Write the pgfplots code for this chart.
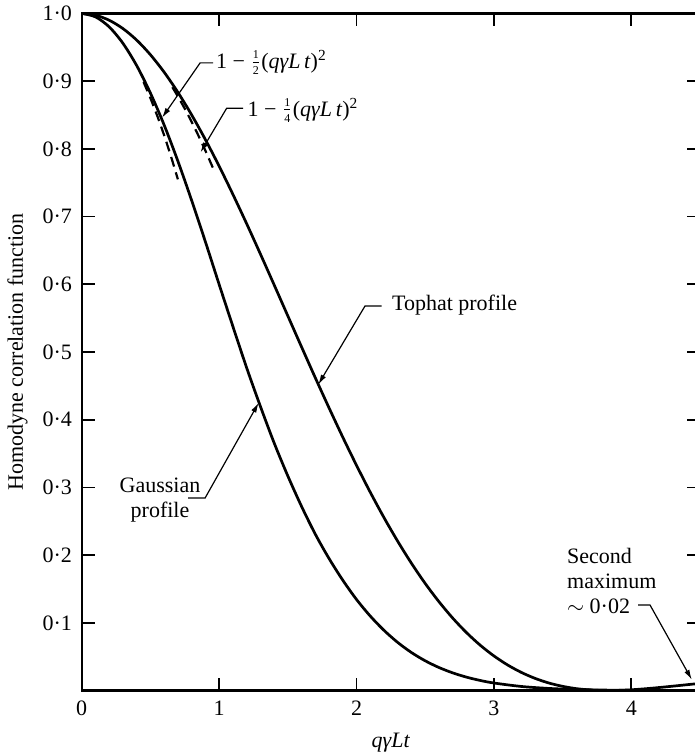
\documentclass[border=0pt]{standalone}
\usepackage{fontspec}
\setmainfont{Liberation Serif}
\usepackage{pgfplots}
\pgfplotsset{compat=1.18}
\usetikzlibrary{arrows.meta}

\pgfplotstableread{
x y
0.0 1.0000
0.1 0.9975
0.2 0.9900
0.3 0.9777
0.4 0.9607
0.5 0.9391
0.6 0.9133
0.7 0.8836
0.8 0.8503
0.9 0.8138
1.0 0.7746
1.1 0.7330
1.2 0.6897
1.3 0.6450
1.4 0.5994
1.5 0.5534
1.6 0.5075
1.7 0.4620
1.8 0.4175
1.9 0.3742
2.0 0.3326
2.1 0.2929
2.2 0.2554
2.3 0.2204
2.4 0.1879
2.5 0.1581
2.6 0.1312
2.7 0.1070
2.8 0.0856
2.9 0.0670
3.0 0.0511
3.1 0.0377
3.2 0.0267
3.3 0.0179
3.4 0.0111
3.5 0.0062
3.6 0.0028
3.7 0.0009
3.8 0.0000
3.9 0.0002
4.0 0.0011
4.1 0.0026
4.2 0.0044
4.3 0.0064
4.4 0.0085
4.5 0.0106
}\tophat

\pgfplotstableread{
x y
0.0 1.0000
0.1 0.9950
0.2 0.9802
0.3 0.9560
0.4 0.9231
0.5 0.8825
0.6 0.8353
0.7 0.7820
0.8 0.7240
0.9 0.6630
1.0 0.6000
1.1 0.5380
1.2 0.4770
1.3 0.4200
1.4 0.3660
1.5 0.3170
1.6 0.2720
1.7 0.2310
1.8 0.1950
1.9 0.1630
2.0 0.1345
2.1 0.1100
2.2 0.0889
2.3 0.0710
2.4 0.0561
2.5 0.0439
2.6 0.0340
2.7 0.0261
2.8 0.0198
2.9 0.0149
3.0 0.0111
3.2 0.0060
3.4 0.0031
3.6 0.0015
3.8 0.0007
4.0 0.0003
4.5 0.0000
}\gaussian

\pgfplotstableread{
x y
0.45 0.8988
0.50 0.8750
0.55 0.8488
0.60 0.8200
0.65 0.7888
0.70 0.7550
}\parA

\pgfplotstableread{
x y
0.66 0.8911
0.70 0.8775
0.75 0.8594
0.80 0.8400
0.85 0.8194
0.90 0.7975
0.96 0.7696
}\parB

\newcommand{\sfrac}[2]{\raisebox{0.15ex}{$\frac{\hbox{\fontsize{6}{6}\selectfont #1}}{\hbox{\fontsize{6}{6}\selectfont #2}}$}}

\begin{document}
\fontsize{11}{13}\selectfont
\begin{tikzpicture}[font=\fontsize{11}{13}\selectfont]
\begin{axis}[
  scale only axis,
  width=309.15pt, height=338.5pt,
  xmin=0, xmax=4.5, ymin=0, ymax=1,
  xtick={0,1,2,3,4},
  xticklabels={0,1,2,3,4},
  ytick={0.1,0.2,0.3,0.4,0.5,0.6,0.7,0.8,0.9,1.0},
  yticklabels={0·1,0·2,0·3,0·4,0·5,0·6,0·7,0·8,0·9,1·0},
  tick align=inside,
  major tick length=6.5pt,
  tick style={line width=0.9pt, black},
  axis line style={line width=1.1pt},
  yticklabel style={xshift=-1pt},
  xticklabel style={yshift=-1.5pt},
  xlabel={\textit{qγLt}},
  ylabel={Homodyne correlation function},
  xlabel style={at={(axis description cs:0.5,-0.0775)}, anchor=center},
  ylabel style={at={(axis description cs:-0.1038,0.5)}, anchor=center},
  clip=true,
]
\addplot[black, line width=1.35pt, smooth] table[x=x,y=y] {\tophat};
\addplot[black, line width=1.35pt, smooth] table[x=x,y=y] {\gaussian};
\addplot[black, line width=1.1pt, dash pattern=on 5pt off 3pt, smooth] table[x=x,y=y] {\parA};
\addplot[black, line width=1.1pt, dash pattern=on 5pt off 3pt, smooth] table[x=x,y=y] {\parB};

% annotations
\draw[line width=0.6pt, -{Latex[length=5pt,width=2.8pt]}] (axis cs:0.956,0.927) -- (axis cs:0.862,0.927) -- (axis cs:0.585,0.846);
\node[anchor=west, inner sep=0pt] at (axis cs:0.975,0.927) {1 − \sfrac{1}{2}(\textit{qγL\,t})\textsuperscript{2}};

\draw[line width=0.6pt, -{Latex[length=5pt,width=2.8pt]}] (axis cs:1.174,0.860) -- (axis cs:1.055,0.860) -- (axis cs:0.865,0.795);
\node[anchor=west, inner sep=0pt] at (axis cs:1.205,0.857) {1 − \sfrac{1}{4}(\textit{qγL\,t})\textsuperscript{2}};

\draw[line width=0.6pt, -{Latex[length=5pt,width=2.8pt]}] (axis cs:2.183,0.568) -- (axis cs:2.062,0.568) -- (axis cs:1.722,0.452);
\node[anchor=west, inner sep=0pt] at (axis cs:2.256,0.569) {Tophat profile};

\draw[line width=0.6pt, -{Latex[length=5pt,width=2.8pt]}] (axis cs:0.774,0.2843) -- (axis cs:0.898,0.2843) -- (axis cs:1.288,0.425);
\node[align=center, inner sep=0pt, font=\fontsize{11}{12.5}\selectfont] at (axis cs:0.570,0.2814) {Gaussian\\profile};

\draw[line width=0.6pt, -{Latex[length=5pt,width=2.8pt]}] (axis cs:4.049,0.1263) -- (axis cs:4.136,0.1263) -- (axis cs:4.44,0.016);
\node[align=left, anchor=west, inner sep=0pt, font=\fontsize{11}{12.5}\selectfont] at (axis cs:3.530,0.1625) {Second\\maximum\\$\sim$ 0·02};

\coordinate (BBsw) at (axis description cs:-0.1321,-0.0967);
\coordinate (BBne) at (axis description cs:0.9903,1.0199);
\end{axis}
\pgfresetboundingbox
\path[use as bounding box] (BBsw) rectangle (BBne);
\end{tikzpicture}
\end{document}
